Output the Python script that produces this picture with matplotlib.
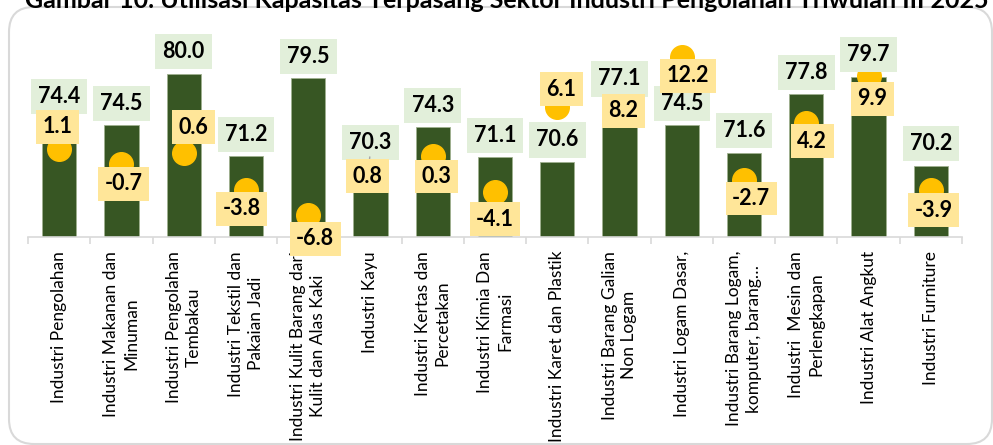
import matplotlib
matplotlib.use("Agg")
import matplotlib.pyplot as plt
from matplotlib.patches import FancyBboxPatch

plt.rcParams["font.family"] = ["Lato", "DejaVu Sans"]

categories = [
    "Industri Pengolahan",
    "Industri Makanan dan\nMinuman",
    "Industri Pengolahan\nTembakau",
    "Industri Tekstil dan\nPakaian Jadi",
    "Industri Kulit Barang dari\nKulit dan Alas Kaki",
    "Industri Kayu",
    "Industri Kertas dan\nPercetakan",
    "Industri Kimia Dan\nFarmasi",
    "Industri Karet dan Plastik",
    "Industri Barang Galian\nNon Logam",
    "Industri Logam Dasar,",
    "Industri Barang Logam,\nkomputer, barang\u2026",
    "Industri  Mesin dan\nPerlengkapan",
    "Industri Alat Angkut",
    "Industri Furniture",
]
utilisasi = [74.4, 74.5, 80.0, 71.2, 79.5, 70.3, 74.3, 71.1, 70.6, 77.1, 74.5, 71.6, 77.8, 79.7, 70.2]
pertumbuhan = [1.1, -0.7, 0.6, -3.8, -6.8, 0.8, 0.3, -4.1, 6.1, 8.2, 12.2, -2.7, 4.2, 9.9, -3.9]

title = "Gambar 10. Utilisasi Kapasitas Terpasang Sektor Industri Pengolahan Triwulan III 2025"

# label offsets (pixels): green ones above the bar top, yellow ones relative to the dot
goff = [30, 22, 22, 22, 22, 22, 22, 22, 22, 22, 22, 22, 22, 22, 22]
yoff = [(-2, 22), (2, -20), (10, 26), (-4, -19), (7, -24), (-3, -25), (4, -21), (0, -27),
        (4, 18), (4, -21), (6, -19), (7, -18), (6, -18), (4, -23), (3, -20)]

fig = plt.figure(figsize=(9.93, 4.45), dpi=100)
ax = fig.add_axes([28 / 993, 208 / 445, 934 / 993, 197 / 445])
xs = list(range(len(categories)))

ax.bar(xs, utilisasi, width=0.55, color="#375623", edgecolor="#9FB08F", linewidth=0.6, zorder=2)
ax.set_xlim(-0.5, len(categories) - 0.5)
ax.set_ylim(62.6, 83.6)
for s in ["top", "right", "left"]:
    ax.spines[s].set_visible(False)
ax.spines["bottom"].set_color("#D9D9D9")
ax.spines["bottom"].set_linewidth(1.2)
ax.set_yticks([])
ax.set_xticks(xs)
ax.set_xticklabels(categories, rotation=90, ha="center", va="top", multialignment="center",
                   linespacing=1.3, fontsize=12.5, color="#000000")
ax.tick_params(axis="x", which="major", length=0, pad=10)
ax.set_xticks([i - 0.5 for i in range(len(categories) + 1)], minor=True)
ax.tick_params(axis="x", which="minor", length=5, color="#D9D9D9", width=1.2)

ax2 = ax.twinx()
ax2.set_ylim(-9.5, 14.2)
ax2.axis("off")
ax2.plot(xs, pertumbuhan, "o", ms=17, color="#FFC000", linestyle="none", zorder=3)

for i, v in enumerate(utilisasi):
    ax2.annotate(f"{v:.1f}", xy=(i, v), xycoords=ax.transData, xytext=(0, goff[i]),
                 textcoords="offset pixels", ha="center", va="center",
                 fontsize=15.5, fontweight="bold",
                 bbox=dict(boxstyle="square,pad=0.33", fc="#E2EFDA", ec="none"), zorder=4)

for i, g in enumerate(pertumbuhan):
    dx, dy = yoff[i]
    arrow = None
    if i == 5:
        arrow = dict(arrowstyle="-", color="#A6A6A6", lw=1, shrinkA=0, shrinkB=4)
    ax2.annotate(f"{g:.1f}", xy=(i, g), xytext=(dx, dy), textcoords="offset pixels",
                 ha="center", va="center", fontsize=15.5, fontweight="bold",
                 bbox=dict(boxstyle="square,pad=0.3", fc="#FFE699", ec="none"),
                 arrowprops=arrow, zorder=5)

fig.text(507 / 993, 1 - 8 / 445, title, ha="center", va="baseline", fontsize=18, fontweight="bold")

frame = FancyBboxPatch((0.09, 0.01), 9.83, 4.37, boxstyle="round,pad=0,rounding_size=0.25",
                       transform=fig.dpi_scale_trans, fc="none", ec="#D9D9D9", lw=1.5)
fig.add_artist(frame)

fig.savefig("out.png", dpi=100)
plt.close(fig)
